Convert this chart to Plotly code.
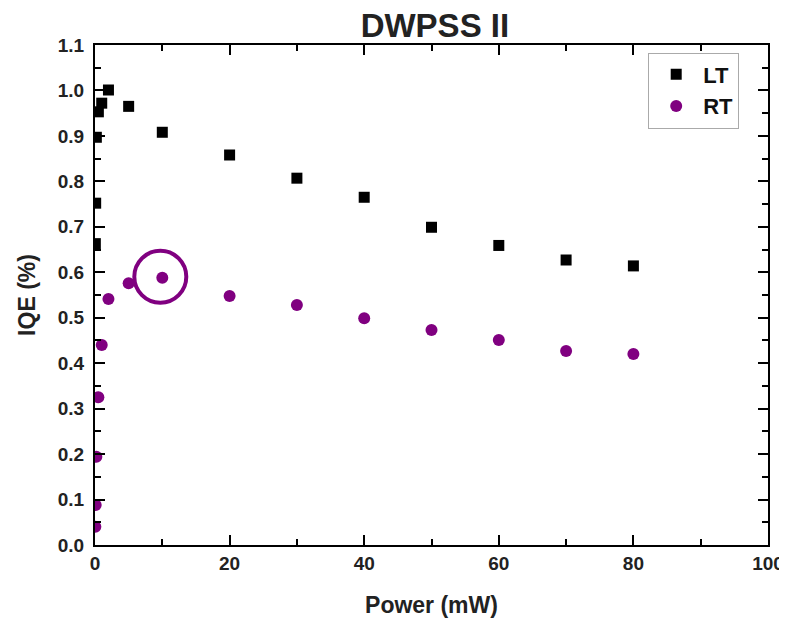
import plotly.graph_objects as go

power_lt = [0.05, 0.1, 0.2, 0.5, 1, 2, 5, 10, 20, 30, 40, 50, 60, 70, 80]
iqe_lt = [0.663, 0.752, 0.897, 0.953, 0.972, 1.001, 0.965, 0.908, 0.858, 0.807, 0.765, 0.699, 0.659, 0.627, 0.614]

power_rt = [0.05, 0.1, 0.2, 0.5, 1, 2, 5, 10, 20, 30, 40, 50, 60, 70, 80]
iqe_rt = [0.040, 0.088, 0.194, 0.325, 0.440, 0.541, 0.576, 0.588, 0.548, 0.528, 0.499, 0.473, 0.451, 0.427, 0.420]

highlight_index = 7  # RT point circled in the reference

x_ticks = [0, 20, 40, 60, 80, 100]
x_tick_labels = ["0", "20", "40", "60", "80", "100"]
y_ticks = [0.0, 0.1, 0.2, 0.3, 0.4, 0.5, 0.6, 0.7, 0.8, 0.9, 1.0, 1.1]
y_tick_labels = ["0.0", "0.1", "0.2", "0.3", "0.4", "0.5", "0.6", "0.7", "0.8", "0.9", "1.0", "1.1"]

PURPLE = "#800080"
FONT = "Liberation Sans, Arial, sans-serif"

fig = go.Figure()
fig.add_trace(go.Scatter(
    x=power_lt, y=iqe_lt, mode="markers", name="LT",
    marker=dict(symbol="square", size=11, color="black", line=dict(width=0)),
))
fig.add_trace(go.Scatter(
    x=power_rt, y=iqe_rt, mode="markers", name="RT",
    marker=dict(symbol="circle", size=12, color=PURPLE, line=dict(width=0)),
))

fig.add_shape(
    type="circle", xref="x", yref="y",
    xsizemode="pixel", ysizemode="pixel",
    xanchor=power_rt[highlight_index], yanchor=iqe_rt[highlight_index],
    x0=-28, x1=24, y0=-25, y1=27,
    line=dict(color=PURPLE, width=4),
)

axis_common = dict(
    showline=True, linecolor="black", linewidth=2, mirror="ticks",
    ticks="inside", ticklen=10, tickwidth=2, tickcolor="black",
    showgrid=False, zeroline=False, automargin=False,
    tickfont=dict(family=FONT, size=19, color="#222", weight="bold"),
)

fig.update_xaxes(
    range=[0, 100], tickvals=x_ticks, ticktext=x_tick_labels,
    minor=dict(dtick=10, ticks="inside", ticklen=6, tickwidth=2, tickcolor="black", showgrid=False),
    title=dict(text="<b>Power (mW)</b>", font=dict(family=FONT, size=23, color="#222"), standoff=24),
    **axis_common,
)
fig.update_yaxes(
    range=[0, 1.1], tickvals=y_ticks, ticktext=y_tick_labels,
    minor=dict(dtick=0.05, ticks="inside", ticklen=6, tickwidth=2, tickcolor="black", showgrid=False),
    title=dict(text="<b>IQE (%)</b>", font=dict(family=FONT, size=23, color="#222"), standoff=16),
    ticklabelstandoff=5,
    **axis_common,
)

fig.update_layout(
    width=779, height=613,
    margin=dict(l=87, r=19, t=37, b=76, autoexpand=False),
    paper_bgcolor="white", plot_bgcolor="white",
    title=dict(text="<b>DWPSS II</b>", x=0.548, xanchor="center", y=0.972, yanchor="middle",
               font=dict(family=FONT, size=33, color="#222")),
    font=dict(family=FONT),
    showlegend=True,
    legend=dict(
        x=0.822, y=0.985, xanchor="left", yanchor="top",
        bordercolor="#aaa", borderwidth=1, bgcolor="white",
        font=dict(family=FONT, size=22, color="#111", weight="bold"),
        itemwidth=44, tracegroupgap=0,
    ),
)

fig.write_html("out.html")
